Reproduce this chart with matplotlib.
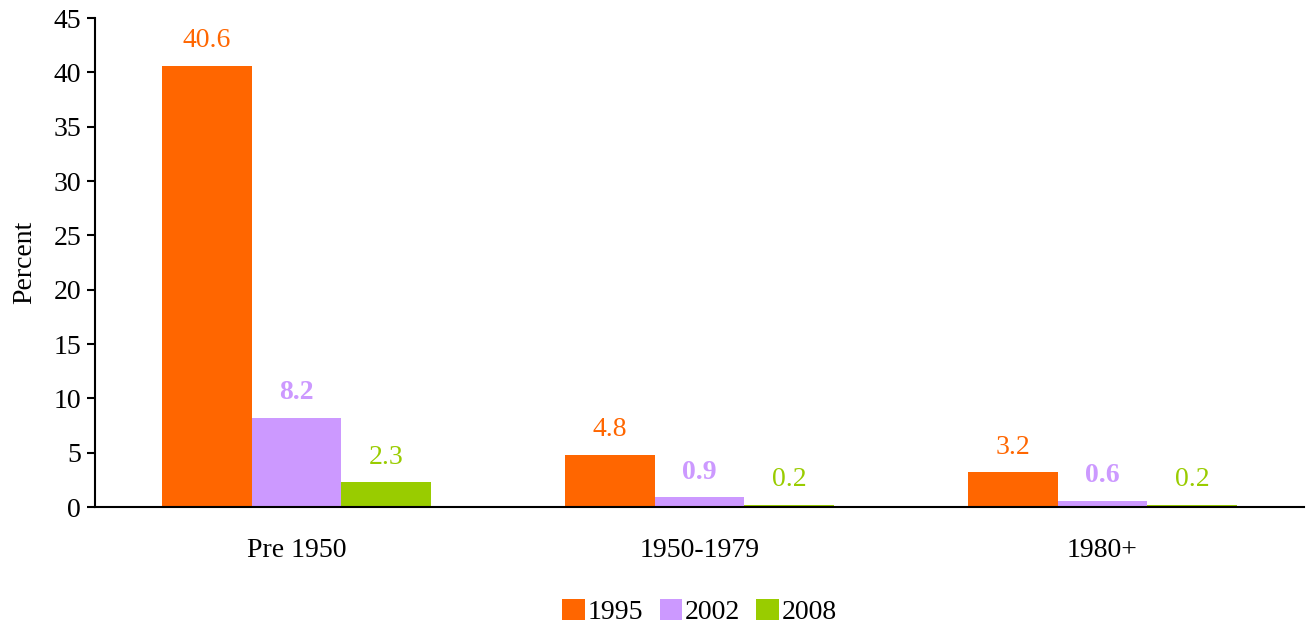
import matplotlib.pyplot as plt
import numpy as np

categories = ["Pre 1950", "1950-1979", "1980+"]
years = ["1995", "2002", "2008"]
vals_1995 = [40.6, 4.8, 3.2]
vals_2002 = [8.2, 0.9, 0.6]
vals_2008 = [2.3, 0.2, 0.2]

colors = ["#FF6600", "#CC99FF", "#99CC00"]
weights = ["normal", "bold", "normal"]

plt.rcParams["font.family"] = "serif"
plt.rcParams["font.serif"] = ["Liberation Serif", "TeX Gyre Termes", "DejaVu Serif"]

fig = plt.figure(figsize=(13.07, 6.26), dpi=100)
ax = fig.add_axes([0.0727, 0.190, 0.925, 0.781])

x = np.arange(len(categories))
width = 0.223
series = [vals_1995, vals_2002, vals_2008]
for j, (vals, year) in enumerate(zip(series, years)):
    pos = x + (j - 1) * width
    ax.bar(pos, vals, width, color=colors[j], label=year)
    for p, v in zip(pos, vals):
        ax.annotate(f"{v:.1f}", (p, v), xytext=(0, 9), textcoords="offset points",
                    ha="center", va="bottom", fontsize=20, color=colors[j],
                    fontweight=weights[j])

ax.set_xlim(-0.5, 2.5)
ax.set_ylim(0, 45)
ax.set_yticks(np.arange(0, 46, 5))
ax.set_xticks(x)
ax.set_xticklabels(categories)
ax.tick_params(axis="y", labelsize=20, direction="out", length=6, width=1.5, pad=4)
ax.tick_params(axis="x", labelsize=20, length=0, pad=22)
ax.set_ylabel("Percent", fontsize=20, labelpad=12)
for s in ["top", "right"]:
    ax.spines[s].set_visible(False)
for s in ["left", "bottom"]:
    ax.spines[s].set_linewidth(1.5)

ax.legend(loc="center", bbox_to_anchor=(0.5, -0.215), ncol=3, frameon=False,
          fontsize=20, handlelength=0.8, handleheight=0.8, handletextpad=0.1,
          columnspacing=0.6)

fig.savefig("out.png")
